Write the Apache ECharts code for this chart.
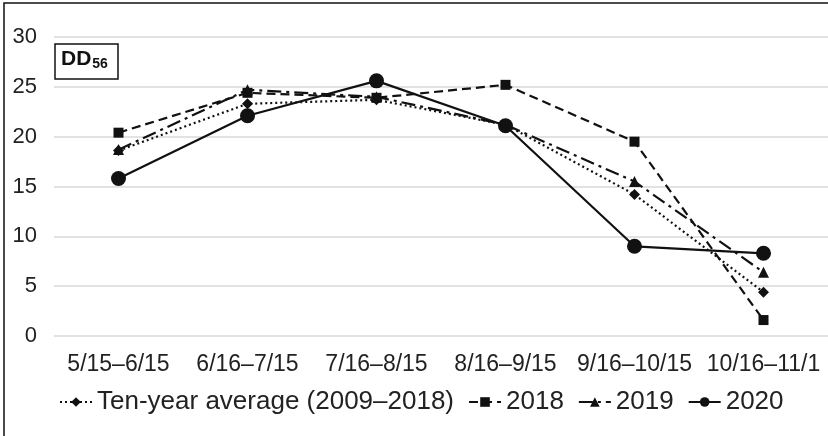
<!DOCTYPE html>
<html>
<head>
<meta charset="utf-8">
<script src="https://cdn.jsdelivr.net/npm/echarts@6/dist/echarts.min.js"></script>
<style>
  html, body { margin: 0; padding: 0; background: #fff; }
  #main { width: 828px; height: 436px; }
</style>
</head>
<body>
<div id="main"></div>
<script>
// periods on the x axis
const periods = ['5/15–6/15', '6/16–7/15', '7/16–8/15', '8/16–9/15', '9/16–10/15', '10/16–11/1'];
// DD56 values
const tenYearAvg = [18.6, 23.3, 23.7, 21.2, 14.2, 4.4];
const y2018 = [20.4, 24.4, 23.9, 25.2, 19.5, 1.6];
const y2019 = [18.7, 24.7, 24.0, 21.2, 15.5, 6.4];
const y2020 = [15.8, 22.1, 25.6, 21.1, 9.0, 8.3];
const yTicks = [0, 5, 10, 15, 20, 25, 30];

const font = '"Liberation Sans", Arial, sans-serif';

const myChart = echarts.init(document.getElementById('main'));

function line(name, data, dash, symbol, size) {
    return {
        name: name,
        type: 'line',
        data: data,
        symbol: symbol,
        symbolSize: size,
        lineStyle: { color: '#111', width: 2.2, type: dash },
        itemStyle: { color: '#111' },
        animation: false
    };
}

const option = {
    animation: false,
    textStyle: { fontFamily: font },
    grid: { left: 54, right: 0, top: 37, bottom: 100 },
    xAxis: {
        type: 'category',
        data: periods,
        boundaryGap: true,
        axisLine: { show: false },
        axisTick: { show: false },
        axisLabel: { color: '#222', fontSize: 23, fontFamily: font, margin: 17, interval: 0 }
    },
    yAxis: {
        type: 'value',
        min: yTicks[0],
        max: yTicks[yTicks.length - 1],
        interval: 5,
        axisLine: { show: false },
        axisTick: { show: false },
        axisLabel: { color: '#222', fontSize: 22, fontFamily: font, margin: 17 },
        splitLine: { lineStyle: { color: '#d9d9d9', width: 1.5 } }
    },
    legend: {
        top: 384,
        left: 54,
        itemGap: 14,
        itemWidth: 32,
        itemHeight: 12,
        textStyle: { color: '#222', fontSize: 26, fontFamily: font },
        data: ['Ten-year average (2009–2018)', '2018', '2019', '2020']
    },
    graphic: [
        { type: 'rect', shape: { x: 4, y: 3, width: 830, height: 440 },
          style: { fill: 'none', stroke: '#111', lineWidth: 1.5 } },
        { type: 'rect', shape: { x: 55, y: 44, width: 63, height: 35 },
          style: { fill: '#fff', stroke: '#111', lineWidth: 1.5 } },
        { type: 'text', left: 61, top: 49,
          style: { text: '{a|DD}{b|56}', rich: {
              a: { fontSize: 21, fontWeight: 'bold', fontFamily: font, fill: '#111' },
              b: { fontSize: 14, fontWeight: 'bold', fontFamily: font, fill: '#111', padding: [10, 0, 0, 1] }
          } } }
    ],
    series: [
        line('Ten-year average (2009–2018)', tenYearAvg, [2, 3], 'diamond', 11),
        line('2018', y2018, [9, 5], 'rect', 10),
        line('2019', y2019, [14, 5, 3, 5], 'triangle', 11),
        line('2020', y2020, 'solid', 'circle', 15)
    ]
};

myChart.setOption(option);
</script>
</body>
</html>
